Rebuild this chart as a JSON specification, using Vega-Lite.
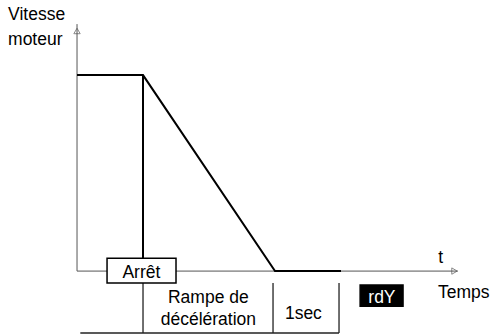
{
  "$schema": "https://vega.github.io/schema/vega-lite/v6.json",
  "width": 492,
  "height": 334,
  "autosize": {"type": "none"},
  "padding": 0,
  "background": "white",
  "config": {"view": {"stroke": null}, "text": {"font": "Liberation Sans", "fontSize": 17.5, "color": "black"}},
  "datasets": {
    "curve": [
      {"t": 0, "v": 100},
      {"t": 1, "v": 100},
      {"t": 3, "v": 0},
      {"t": 4, "v": 0}
    ],
    "axes": [
      {"name": "y", "t": 0, "t2": 0, "v": 0, "v2": 126},
      {"name": "x", "t": 0, "t2": 5.77, "v": 0, "v2": 0}
    ],
    "arrows": [
      {"name": "y", "t": 0, "v": 122.5, "shape": "triangle-up"},
      {"name": "x", "t": 5.72, "v": 0, "shape": "triangle-right"}
    ],
    "stopline": [
      {"t": 1, "v": 100, "v2": 6.6}
    ],
    "table": [
      {"t": 0.05, "t2": 3.97, "v": -31.6, "v2": -31.6},
      {"t": 1, "t2": 1, "v": -6.1, "v2": -31.6},
      {"t": 2.97, "t2": 2.97, "v": -6.1, "v2": -31.6},
      {"t": 3.97, "t2": 3.97, "v": -6.1, "v2": -31.6}
    ],
    "boxes": [
      {"t": 0.455, "t2": 1.5, "v": 6.6, "v2": -6.1, "fill": "white"},
      {"t": 4.29, "t2": 4.94, "v": -7.1, "v2": -17.9, "fill": "black"}
    ],
    "centerLabels": [
      {"label": "Arrêt", "t": 0.975, "v": -3.6, "color": "black"},
      {"label": "rdY", "t": 4.62, "v": -16.3, "color": "white"},
      {"label": "Rampe de", "t": 1.99, "v": -16.3, "color": "black"},
      {"label": "décélération", "t": 1.99, "v": -27.6, "color": "black"},
      {"label": "1sec", "t": 3.43, "v": -24.5, "color": "black"},
      {"label": "t", "t": 5.51, "v": 4.1, "color": "black"}
    ],
    "leftLabels": [
      {"label": "Temps", "t": 5.47, "v": -13.8},
      {"label": "Vitesse", "t": -1.045, "v": 128.1},
      {"label": "moteur", "t": -1.045, "v": 115.3}
    ]
  },
  "layer": [
    {
      "data": {"name": "axes"},
      "mark": {"type": "rule", "color": "#555555", "strokeWidth": 1},
      "encoding": {
        "x": {"field": "t", "type": "quantitative", "scale": {"domain": [-1.167, 6.288], "nice": false, "zero": false}, "axis": null},
        "x2": {"field": "t2"},
        "y": {"field": "v", "type": "quantitative", "scale": {"domain": [-32.1, 138.3], "nice": false, "zero": false}, "axis": null},
        "y2": {"field": "v2"}
      }
    },
    {
      "data": {"name": "arrows"},
      "mark": {"type": "point", "filled": false, "stroke": "#555555", "strokeWidth": 1, "size": 40},
      "encoding": {
        "x": {"field": "t", "type": "quantitative"},
        "y": {"field": "v", "type": "quantitative"},
        "shape": {"field": "shape", "type": "nominal", "scale": null}
      }
    },
    {
      "data": {"name": "table"},
      "mark": {"type": "rule", "color": "#222222", "strokeWidth": 1.3},
      "encoding": {
        "x": {"field": "t", "type": "quantitative"},
        "x2": {"field": "t2"},
        "y": {"field": "v", "type": "quantitative"},
        "y2": {"field": "v2"}
      }
    },
    {
      "data": {"name": "stopline"},
      "mark": {"type": "rule", "color": "black", "strokeWidth": 2},
      "encoding": {
        "x": {"field": "t", "type": "quantitative"},
        "y": {"field": "v", "type": "quantitative"},
        "y2": {"field": "v2"}
      }
    },
    {
      "data": {"name": "curve"},
      "mark": {"type": "line", "color": "black", "strokeWidth": 2},
      "encoding": {
        "x": {"field": "t", "type": "quantitative"},
        "y": {"field": "v", "type": "quantitative"}
      }
    },
    {
      "data": {"name": "boxes"},
      "mark": {"type": "rect", "stroke": "black", "strokeWidth": 1.5},
      "encoding": {
        "x": {"field": "t", "type": "quantitative"},
        "x2": {"field": "t2"},
        "y": {"field": "v", "type": "quantitative"},
        "y2": {"field": "v2"},
        "fill": {"field": "fill", "type": "nominal", "scale": null}
      }
    },
    {
      "data": {"name": "centerLabels"},
      "mark": {"type": "text", "baseline": "alphabetic", "align": "center"},
      "encoding": {
        "x": {"field": "t", "type": "quantitative"},
        "y": {"field": "v", "type": "quantitative"},
        "text": {"field": "label"},
        "color": {"field": "color", "type": "nominal", "scale": null}
      }
    },
    {
      "data": {"name": "leftLabels"},
      "mark": {"type": "text", "baseline": "alphabetic", "align": "left"},
      "encoding": {
        "x": {"field": "t", "type": "quantitative"},
        "y": {"field": "v", "type": "quantitative"},
        "text": {"field": "label"}
      }
    }
  ]
}
